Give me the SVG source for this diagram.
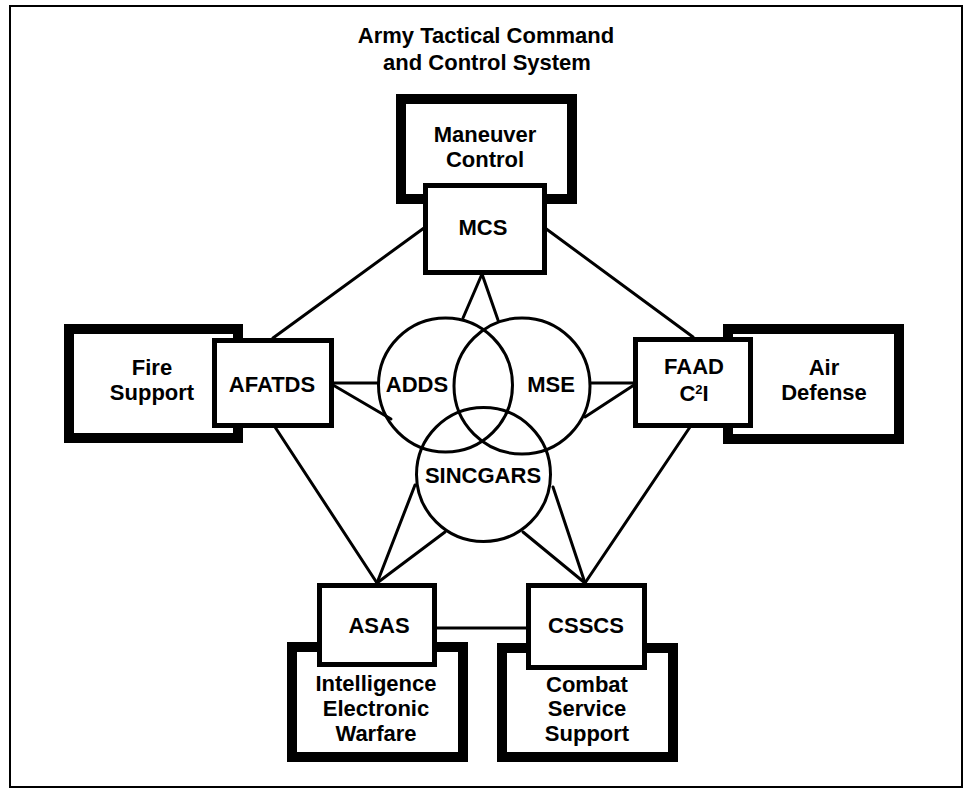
<svg xmlns="http://www.w3.org/2000/svg" width="968" height="789" viewBox="0 0 968 789">
<style>
text{font-family:"Liberation Sans",Arial,sans-serif;font-weight:bold;font-size:22px;fill:#000;text-anchor:middle}
.frame{fill:none;stroke:#000;stroke-width:2}
.outer{fill:#fff;stroke:#000;stroke-width:10}
.inner{fill:#fff;stroke:#000;stroke-width:5}
.circ{fill:none;stroke:#000;stroke-width:3}
.conn line{stroke:#000;stroke-width:3;stroke-linecap:round}
</style>
<rect width="968" height="789" fill="#fff"/>
<rect class="frame" x="10" y="6" width="952" height="781"/>
<g id="title">
<text x="486" y="43">Army Tactical Command</text>
<text x="487" y="70">and Control System</text>
</g>
<g class="conn" id="connectors">
<line x1="424" y1="228" x2="273" y2="338"/>
<line x1="545" y1="228" x2="693" y2="337"/>
<line x1="482" y1="274" x2="463" y2="318"/>
<line x1="482" y1="274" x2="498" y2="320"/>
<line x1="333" y1="383" x2="378" y2="383"/>
<line x1="333" y1="385" x2="391" y2="419"/>
<line x1="275" y1="427" x2="377" y2="583"/>
<line x1="591" y1="383" x2="634" y2="383"/>
<line x1="634" y1="385" x2="585" y2="417"/>
<line x1="690" y1="427" x2="585" y2="583"/>
<line x1="377" y1="583" x2="415" y2="485"/>
<line x1="377" y1="583" x2="445" y2="532"/>
<line x1="585" y1="583" x2="553" y2="487"/>
<line x1="585" y1="583" x2="523" y2="532"/>
<line x1="436" y1="628" x2="527" y2="628"/>
</g>
<g id="maneuver-control">
<rect class="outer" x="401" y="99" width="171" height="100"/>
<text x="485" y="142">Maneuver</text>
<text x="485" y="167">Control</text>
</g>
<g id="mcs">
<rect class="inner" x="425.5" y="185.5" width="119" height="87"/>
<text x="483" y="235">MCS</text>
</g>
<g id="fire-support">
<rect class="outer" x="69" y="329" width="169" height="109"/>
<text x="152" y="375">Fire</text>
<text x="152" y="400">Support</text>
</g>
<g id="afatds">
<rect class="inner" x="214.5" y="340.5" width="117" height="85"/>
<text x="272" y="392">AFATDS</text>
</g>
<g id="air-defense">
<rect class="outer" x="728" y="329" width="171" height="110"/>
<text x="824" y="375">Air</text>
<text x="824" y="400">Defense</text>
</g>
<g id="faad">
<rect class="inner" x="635.5" y="339.5" width="115" height="86"/>
<text x="694" y="374">FAAD</text>
<text x="694" y="401">C<tspan font-size="13" dy="-7">2</tspan><tspan dy="7">I</tspan></text>
</g>
<g id="adds">
<circle class="circ" cx="445.5" cy="385" r="67"/>
<text x="417" y="392">ADDS</text>
</g>
<g id="mse">
<circle class="circ" cx="522" cy="386" r="68"/>
<text x="551" y="392">MSE</text>
</g>
<g id="sincgars">
<circle class="circ" cx="483.5" cy="474.5" r="67"/>
<text x="483" y="483">SINCGARS</text>
</g>
<g id="intelligence-ew">
<rect class="outer" x="292" y="647" width="171" height="110"/>
<text x="376" y="691">Intelligence</text>
<text x="376" y="716">Electronic</text>
<text x="376" y="741">Warfare</text>
</g>
<g id="asas">
<rect class="inner" x="319.5" y="585.5" width="115" height="79"/>
<text x="379" y="633">ASAS</text>
</g>
<g id="combat-service-support">
<rect class="outer" x="502" y="648" width="171" height="109"/>
<text x="587" y="692">Combat</text>
<text x="587" y="716">Service</text>
<text x="587" y="741">Support</text>
</g>
<g id="csscs">
<rect class="inner" x="528.5" y="585.5" width="116" height="82"/>
<text x="586" y="633">CSSCS</text>
</g>
</svg>
